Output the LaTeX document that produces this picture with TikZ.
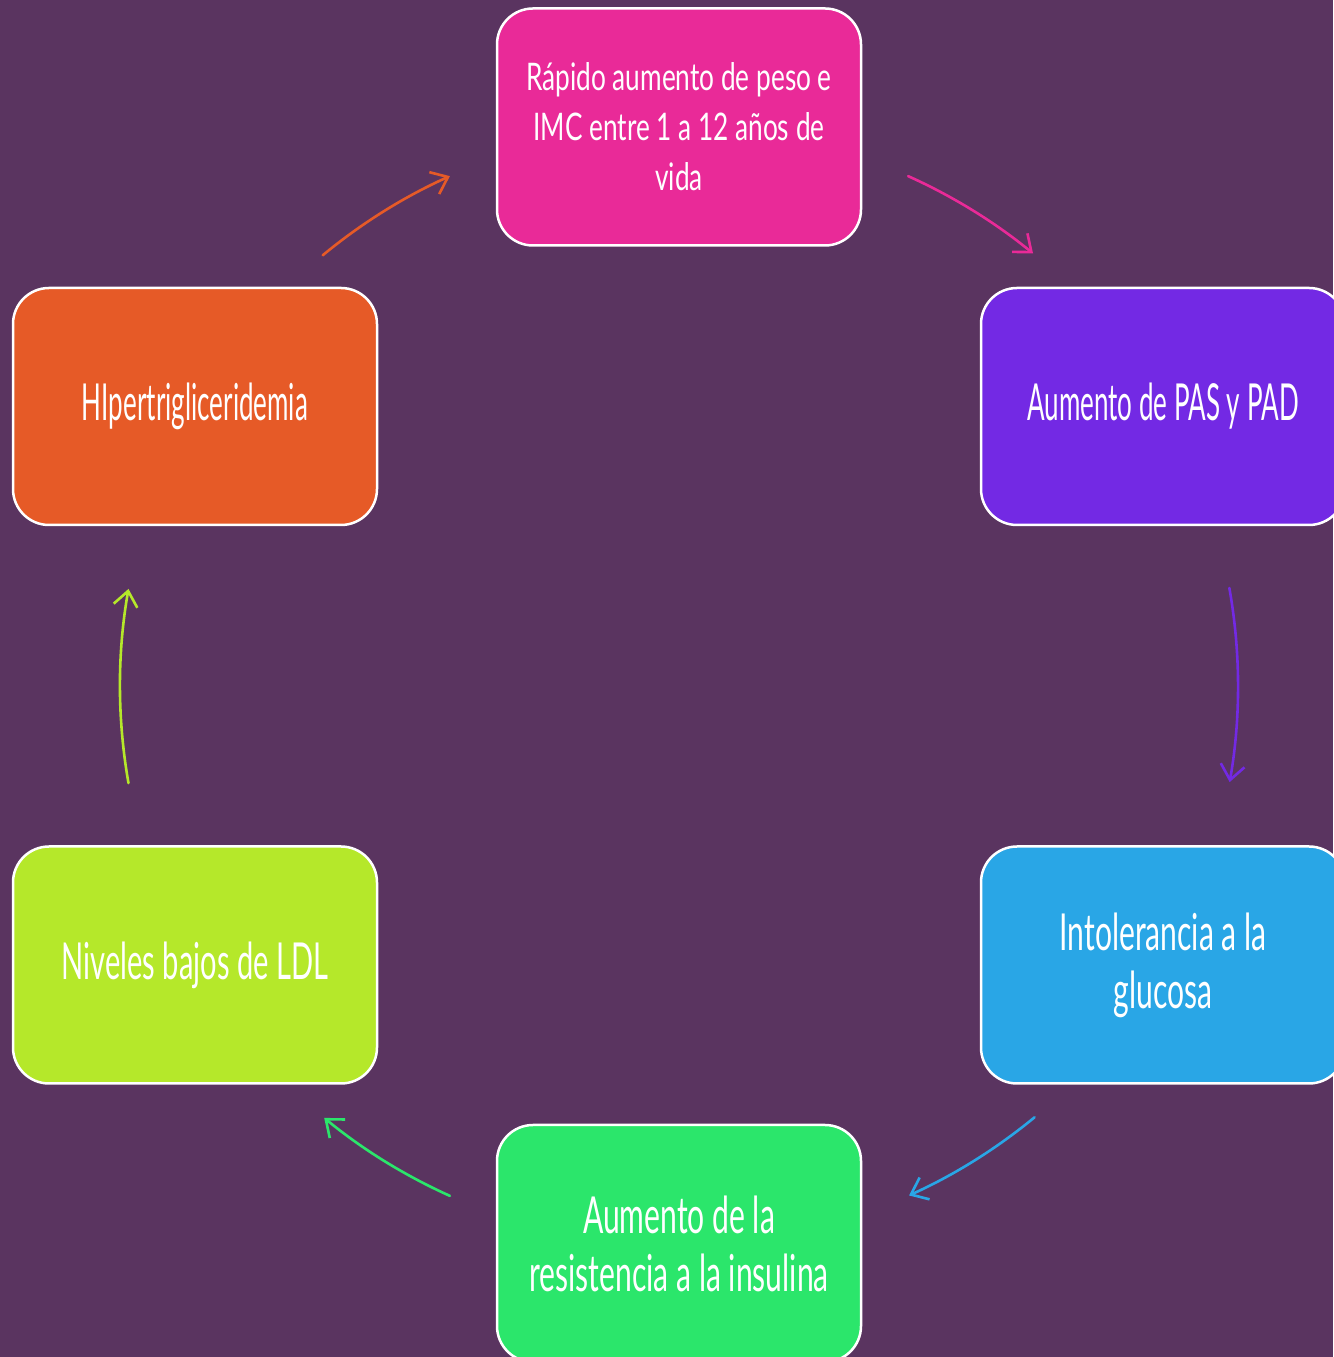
\documentclass[tikz,border=0pt]{standalone}
\usepackage{fontspec}
\setmainfont{Lato}[FakeStretch=0.55]
\newfontfamily\fnarrow{Lato}[FakeStretch=0.51]
\newfontfamily\fmid{Lato}[FakeStretch=0.57]
\newfontfamily\fwide{Lato}[FakeStretch=0.59]
\newfontfamily\ftop{Lato}[FakeStretch=0.69]
\usetikzlibrary{arrows.meta}
\definecolor{bgc}{HTML}{5A3460}
\definecolor{pinkc}{HTML}{E92A98}
\definecolor{purplec}{HTML}{7329E4}
\definecolor{bluec}{HTML}{29A6E6}
\definecolor{greenc}{HTML}{2BE66B}
\definecolor{limec}{HTML}{B5E82A}
\definecolor{orangec}{HTML}{E65A27}
\begin{document}
\begin{tikzpicture}[x=1pt,y=1pt,
  box/.style={draw=white, line width=2.5pt, rounded corners=36pt,
    minimum width=364pt, minimum height=237pt, inner sep=0pt,
    align=center, text=white},
  big/.style={font=\fontsize{51}{58}\selectfont},
  arr/.style={line width=2.6pt, line cap=round,
    -{Straight Barb[length=15pt,width=24pt]}}]
\fill[bgc] (0,0) rectangle (1333,1357);
\useasboundingbox (0,0) rectangle (1333,1357);
\coordinate (c) at (679,671);
\node[box, fill=pinkc, font=\ftop\fontsize{38}{50}\selectfont] (n1) at (679,1230)
  {Rápido aumento de peso e\\IMC entre 1 a 12 años de\\vida};
\node[box, fill=purplec, font=\fnarrow\fontsize{51}{58}\selectfont] (n2) at (1163,950.5) {Aumento de PAS y PAD};
\node[box, fill=bluec, font=\fwide\fontsize{51}{58}\selectfont] (n3) at (1163,392) {Intolerancia a la\\glucosa};
\node[box, fill=greenc, font=\fwide\fontsize{51}{58}\selectfont] (n4) at (679,113.5) {Aumento de la\\resistencia a la insulina};
\node[box, fill=limec, font=\fmid\fontsize{51}{58}\selectfont] (n5) at (195,392) {Niveles bajos de LDL};
\node[box, fill=orangec, font=\fnarrow\fontsize{51}{58}\selectfont] (n6) at (195,950.5) {HIpertrigliceridemia};
\coordinate (s1) at ([shift={(65.8:559)}]c);
\coordinate (s2) at ([shift={(10.1:559)}]c);
\coordinate (s3) at ([shift={(-50.5:559)}]c);
\coordinate (s4) at ([shift={(-114.2:559)}]c);
\coordinate (s5) at ([shift={(190:559)}]c);
\coordinate (s6) at ([shift={(129.6:559)}]c);
\draw[arr, pinkc] (s1) arc[start angle=65.8, end angle=50.7, radius=559];
\draw[arr, purplec] (s2) arc[start angle=10.1, end angle=-9.9, radius=559];
\draw[arr, bluec] (s3) arc[start angle=-50.5, end angle=-65.7, radius=559];
\draw[arr, greenc] (s4) arc[start angle=-114.2, end angle=-129.4, radius=559];
\draw[arr, limec] (s5) arc[start angle=190, end angle=170, radius=559];
\draw[arr, orangec] (s6) arc[start angle=129.6, end angle=114.2, radius=559];
\end{tikzpicture}
\end{document}
